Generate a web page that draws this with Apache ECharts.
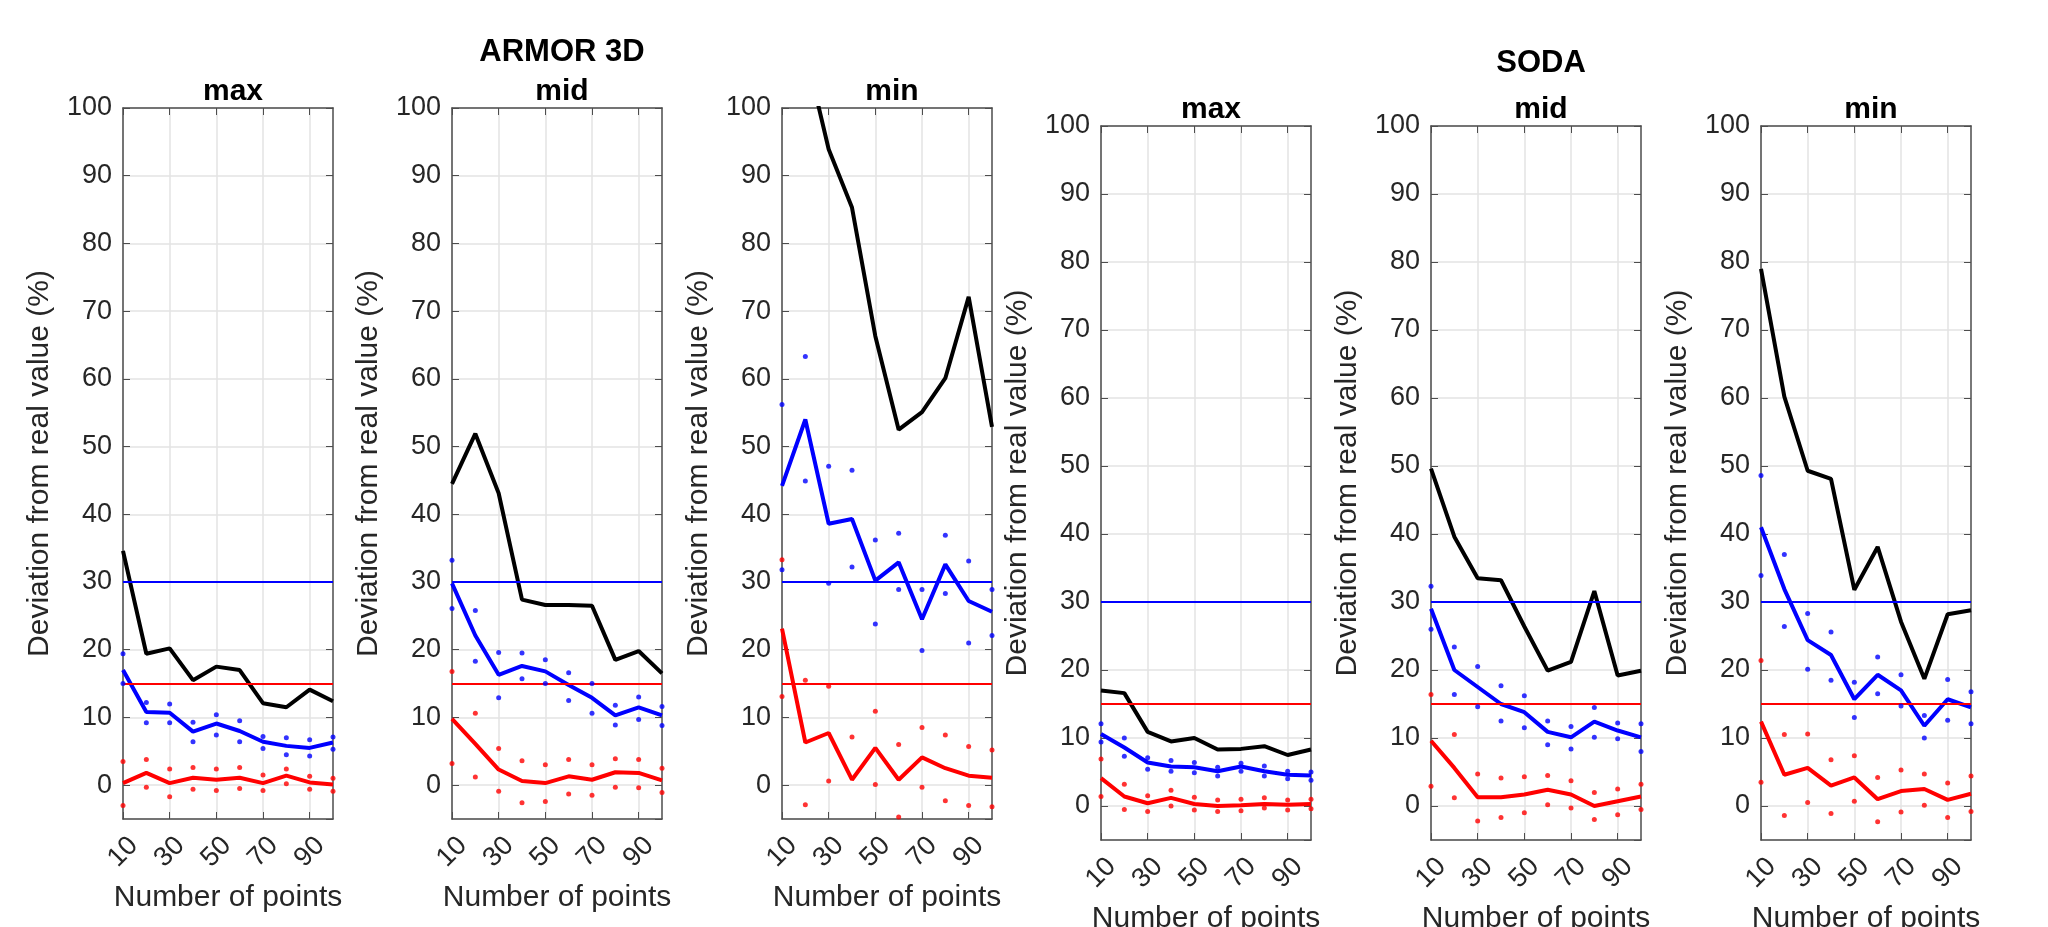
<!DOCTYPE html>
<html>
<head>
<meta charset="utf-8">
<title>Deviation from real value</title>
<script src="https://cdn.jsdelivr.net/npm/echarts@6/dist/echarts.min.js"></script>
<style>
	html, body { margin: 0; padding: 0; background: #fff; }
	#chart { width: 2048px; height: 927px; }
</style>
</head>
<body>
<div id="chart"></div>
<script>
	// number of points (x categories)
	var nPoints = [10, 20, 30, 40, 50, 60, 70, 80, 90, 100];
	var blueLimit = 30;
	var redLimit = 15;

	// ARMOR 3D - max
	var armorMaxBlack = [34.6, 19.4, 20.2, 15.5, 17.5, 17.0, 12.1, 11.5, 14.1, 12.4];
	var armorMaxBlue = [17.0, 10.8, 10.7, 7.9, 9.1, 8.0, 6.4, 5.8, 5.5, 6.3];
	var armorMaxBlueHi = [19.4, 12.2, 12.0, 9.3, 10.4, 9.5, 7.2, 7.0, 6.7, 7.1];
	var armorMaxBlueLo = [15.0, 9.2, 9.2, 6.4, 7.4, 6.4, 5.4, 4.5, 4.3, 5.3];
	var armorMaxRed = [0.3, 1.8, 0.3, 1.1, 0.8, 1.1, 0.3, 1.4, 0.4, 0.1];
	var armorMaxRedHi = [3.5, 3.8, 2.4, 2.6, 2.4, 2.6, 1.5, 2.4, 1.3, 1.0];
	var armorMaxRedLo = [-3.0, -0.3, -1.7, -0.6, -0.8, -0.5, -0.8, 0.2, -0.6, -0.9];

	// ARMOR 3D - mid
	var armorMidBlack = [44.5, 51.9, 43.1, 27.4, 26.6, 26.6, 26.5, 18.5, 19.8, 16.5];
	var armorMidBlue = [29.8, 22.1, 16.3, 17.6, 16.8, 14.8, 12.9, 10.3, 11.5, 10.3];
	var armorMidBlueHi = [33.2, 25.8, 19.6, 19.5, 18.5, 16.6, 15.0, 11.8, 13.0, 11.6];
	var armorMidBlueLo = [26.1, 18.3, 12.9, 15.7, 15.0, 12.5, 10.6, 8.9, 9.7, 8.8];
	var armorMidRed = [9.8, 6.1, 2.3, 0.6, 0.3, 1.3, 0.8, 1.9, 1.8, 0.7];
	var armorMidRedHi = [16.8, 10.6, 5.4, 3.6, 3.0, 3.8, 3.0, 3.9, 3.8, 2.5];
	var armorMidRedLo = [3.2, 1.2, -0.9, -2.6, -2.4, -1.3, -1.5, -0.3, -0.4, -1.1];

	// ARMOR 3D - min
	var armorMinBlack = [125, 108.5, 93.9, 85.3, 66.3, 52.5, 55.1, 60.1, 72.1, 52.9];
	var armorMinBlue = [44.2, 54.0, 38.6, 39.3, 30.2, 32.9, 24.5, 32.6, 27.2, 25.6];
	var armorMinBlueHi = [56.2, 63.3, 47.1, 46.5, 36.2, 37.2, 28.9, 36.9, 33.1, 28.9];
	var armorMinBlueLo = [31.8, 44.9, 29.8, 32.2, 23.8, 28.9, 19.9, 28.3, 21.0, 22.1];
	var armorMinRed = [23.1, 6.3, 7.7, 0.8, 5.5, 0.8, 4.1, 2.5, 1.4, 1.1];
	var armorMinRedHi = [33.3, 15.5, 14.6, 7.1, 10.9, 6.0, 8.5, 7.4, 5.7, 5.2];
	var armorMinRedLo = [13.1, -2.9, 0.6, -5.5, 0.1, -4.7, -0.3, -2.3, -3.0, -3.2];

	// SODA - max
	var sodaMaxBlack = [17.0, 16.6, 10.9, 9.5, 10.0, 8.3, 8.4, 8.8, 7.5, 8.3];
	var sodaMaxBlue = [10.6, 8.6, 6.4, 5.8, 5.7, 5.1, 5.8, 5.1, 4.6, 4.5];
	var sodaMaxBlueHi = [12.1, 10.0, 7.1, 6.7, 6.4, 5.7, 6.3, 5.9, 5.1, 5.0];
	var sodaMaxBlueLo = [9.4, 7.3, 5.4, 5.1, 4.9, 4.4, 5.1, 4.4, 4.0, 3.8];
	var sodaMaxRed = [4.1, 1.4, 0.4, 1.2, 0.3, 0.0, 0.1, 0.3, 0.2, 0.3];
	var sodaMaxRedHi = [6.9, 3.2, 1.5, 2.3, 1.3, 0.9, 1.0, 1.2, 0.9, 1.0];
	var sodaMaxRedLo = [1.4, -0.5, -0.8, 0.0, -0.6, -0.8, -0.7, -0.3, -0.6, -0.4];

	// SODA - mid
	var sodaMidBlack = [49.6, 39.6, 33.5, 33.2, 26.4, 19.9, 21.2, 31.6, 19.2, 19.9];
	var sodaMidBlue = [29.0, 20.0, 17.5, 15.0, 13.8, 10.9, 10.1, 12.4, 11.1, 10.1];
	var sodaMidBlueHi = [32.3, 23.4, 20.5, 17.7, 16.2, 12.5, 11.7, 14.5, 12.2, 12.1];
	var sodaMidBlueLo = [26.0, 16.4, 14.6, 12.5, 11.5, 9.0, 8.4, 10.1, 9.9, 8.0];
	var sodaMidRed = [9.6, 5.6, 1.3, 1.3, 1.7, 2.4, 1.7, 0.0, 0.7, 1.4];
	var sodaMidRedHi = [16.4, 10.5, 4.7, 4.1, 4.3, 4.5, 3.7, 2.0, 2.5, 3.2];
	var sodaMidRedLo = [2.9, 1.2, -2.2, -1.7, -1.0, 0.2, -0.3, -2.0, -1.3, -0.5];

	// SODA - min
	var sodaMinBlack = [79.0, 60.2, 49.3, 48.1, 31.8, 38.1, 27.1, 18.7, 28.2, 28.8];
	var sodaMinBlue = [41.0, 31.9, 24.4, 22.2, 15.7, 19.3, 17.0, 11.8, 15.7, 14.5];
	var sodaMinBlueHi = [48.6, 37.0, 28.3, 25.6, 18.2, 21.9, 19.3, 13.3, 18.6, 16.8];
	var sodaMinBlueLo = [33.9, 26.4, 20.1, 18.5, 13.0, 16.5, 14.7, 10.0, 12.6, 12.1];
	var sodaMinRed = [12.4, 4.6, 5.6, 3.0, 4.2, 1.0, 2.2, 2.5, 0.9, 1.8];
	var sodaMinRedHi = [21.4, 10.5, 10.6, 6.8, 7.4, 4.2, 5.3, 4.7, 3.4, 4.4];
	var sodaMinRedLo = [3.5, -1.4, 0.5, -1.1, 0.7, -2.3, -0.9, 0.1, -1.7, -0.8];

	var panels = [
		{ name: 'max', left: 123, top: 108, height: 711, black: armorMaxBlack, blue: armorMaxBlue, blueHi: armorMaxBlueHi, blueLo: armorMaxBlueLo, red: armorMaxRed, redHi: armorMaxRedHi, redLo: armorMaxRedLo },
		{ name: 'mid', left: 452, top: 108, height: 711, black: armorMidBlack, blue: armorMidBlue, blueHi: armorMidBlueHi, blueLo: armorMidBlueLo, red: armorMidRed, redHi: armorMidRedHi, redLo: armorMidRedLo },
		{ name: 'min', left: 782, top: 108, height: 711, black: armorMinBlack, blue: armorMinBlue, blueHi: armorMinBlueHi, blueLo: armorMinBlueLo, red: armorMinRed, redHi: armorMinRedHi, redLo: armorMinRedLo },
		{ name: 'max', left: 1101, top: 126, height: 714, black: sodaMaxBlack, blue: sodaMaxBlue, blueHi: sodaMaxBlueHi, blueLo: sodaMaxBlueLo, red: sodaMaxRed, redHi: sodaMaxRedHi, redLo: sodaMaxRedLo },
		{ name: 'mid', left: 1431, top: 126, height: 714, black: sodaMidBlack, blue: sodaMidBlue, blueHi: sodaMidBlueHi, blueLo: sodaMidBlueLo, red: sodaMidRed, redHi: sodaMidRedHi, redLo: sodaMidRedLo },
		{ name: 'min', left: 1761, top: 126, height: 714, black: sodaMinBlack, blue: sodaMinBlue, blueHi: sodaMinBlueHi, blueLo: sodaMinBlueLo, red: sodaMinRed, redHi: sodaMinRedHi, redLo: sodaMinRedLo }
	];

	var FONT = "'Liberation Sans', Arial, sans-serif";
	var TXT = '#262626';
	var AXIS = '#4d4d4d';
	var GRID = '#e3e3e3';
	var BLUE = '#0000ff';
	var RED = '#ff0000';
	var PW = 210;

	var grids = [], xAxes = [], yAxes = [], series = [];
	var titles = [
		{ text: 'ARMOR 3D', left: 557, top: 32, textAlign: 'center', textStyle: { fontFamily: FONT, fontSize: 31, fontWeight: 'bold', color: '#000' } },
		{ text: 'SODA', left: 1536, top: 43, textAlign: 'center', textStyle: { fontFamily: FONT, fontSize: 31, fontWeight: 'bold', color: '#000' } }
	];

	panels.forEach(function (p, i) {
		// outerBoundsMode none: keep the grid where it is even if names run off the page
		grids.push({ left: p.left, top: p.top, width: PW, height: p.height, outerBoundsMode: 'none' });
		titles.push({
			text: p.name, left: p.left + PW / 2, top: p.top - 36, textAlign: 'center',
			textStyle: { fontFamily: FONT, fontSize: 30, fontWeight: 'bold', color: '#000' }
		});
		// bottom x axis
		xAxes.push({
			gridIndex: i, type: 'category', data: nPoints, boundaryGap: false,
			name: 'Number of points', nameLocation: 'middle', nameGap: 64,
			nameTextStyle: { fontFamily: FONT, fontSize: 30, color: TXT },
			axisLine: { onZero: false, lineStyle: { color: AXIS, width: 1.5 } },
			axisTick: { inside: true, length: 7, interval: 1, lineStyle: { color: AXIS } },
			axisLabel: { interval: 1, rotate: 45, align: 'center', verticalAlign: 'middle', margin: 33, fontFamily: FONT, fontSize: 27, color: TXT },
			splitLine: { show: true, interval: 1, lineStyle: { color: GRID, width: 1.5 } }
		});
		// top x axis (box)
		xAxes.push({
			gridIndex: i, type: 'category', data: nPoints, boundaryGap: false, position: 'top',
			axisLine: { onZero: false, lineStyle: { color: AXIS, width: 1.5 } },
			axisTick: { inside: true, length: 7, interval: 1, lineStyle: { color: AXIS } },
			axisLabel: { show: false },
			splitLine: { show: false }
		});
		// left y axis
		yAxes.push({
			gridIndex: i, type: 'value', min: -5, max: 100, splitNumber: 10,
			name: 'Deviation from real value (%)', nameLocation: 'middle', nameGap: 68,
			nameTextStyle: { fontFamily: FONT, fontSize: 30, color: TXT },
			axisLine: { show: true, onZero: false, lineStyle: { color: AXIS, width: 1.5 } },
			axisTick: { show: true, inside: true, length: 7, lineStyle: { color: AXIS } },
			axisLabel: { showMinLabel: false, margin: 11, fontFamily: FONT, fontSize: 27, color: TXT },
			splitLine: { show: true, lineStyle: { color: GRID, width: 1.5 } }
		});
		// right y axis (box)
		yAxes.push({
			gridIndex: i, type: 'value', min: -5, max: 100, splitNumber: 10, position: 'right',
			axisLine: { show: true, onZero: false, lineStyle: { color: AXIS, width: 1.5 } },
			axisTick: { show: true, inside: true, length: 7, lineStyle: { color: AXIS } },
			axisLabel: { show: false },
			splitLine: { show: false }
		});

		var xi = i * 2, yi = i * 2;
		series.push({
			type: 'line', xAxisIndex: xi, yAxisIndex: yi, data: p.black, symbol: 'none', z: 4,
			lineStyle: { color: '#000', width: 4 }
		});
		series.push({
			type: 'line', xAxisIndex: xi, yAxisIndex: yi, data: p.blue, symbol: 'none', z: 4,
			lineStyle: { color: BLUE, width: 4 },
			markLine: {
				silent: true, symbol: 'none', label: { show: false },
				lineStyle: { color: BLUE, width: 2, type: 'solid' },
				data: [{ yAxis: blueLimit }]
			}
		});
		series.push({
			type: 'line', xAxisIndex: xi, yAxisIndex: yi, data: p.red, symbol: 'none', z: 4,
			lineStyle: { color: RED, width: 4 },
			markLine: {
				silent: true, symbol: 'none', label: { show: false },
				lineStyle: { color: RED, width: 2, type: 'solid' },
				data: [{ yAxis: redLimit }]
			}
		});
		[p.blueHi, p.blueLo].forEach(function (d) {
			series.push({ type: 'scatter', xAxisIndex: xi, yAxisIndex: yi, data: d, symbolSize: 5, itemStyle: { color: BLUE }, z: 5 });
		});
		[p.redHi, p.redLo].forEach(function (d) {
			series.push({ type: 'scatter', xAxisIndex: xi, yAxisIndex: yi, data: d, symbolSize: 5, itemStyle: { color: RED }, z: 5 });
		});
	});

	var myChart = echarts.init(document.getElementById('chart'));
	myChart.setOption({
		backgroundColor: '#fff',
		animation: false,
		title: titles,
		grid: grids,
		xAxis: xAxes,
		yAxis: yAxes,
		series: series
	});
</script>
</body>
</html>
